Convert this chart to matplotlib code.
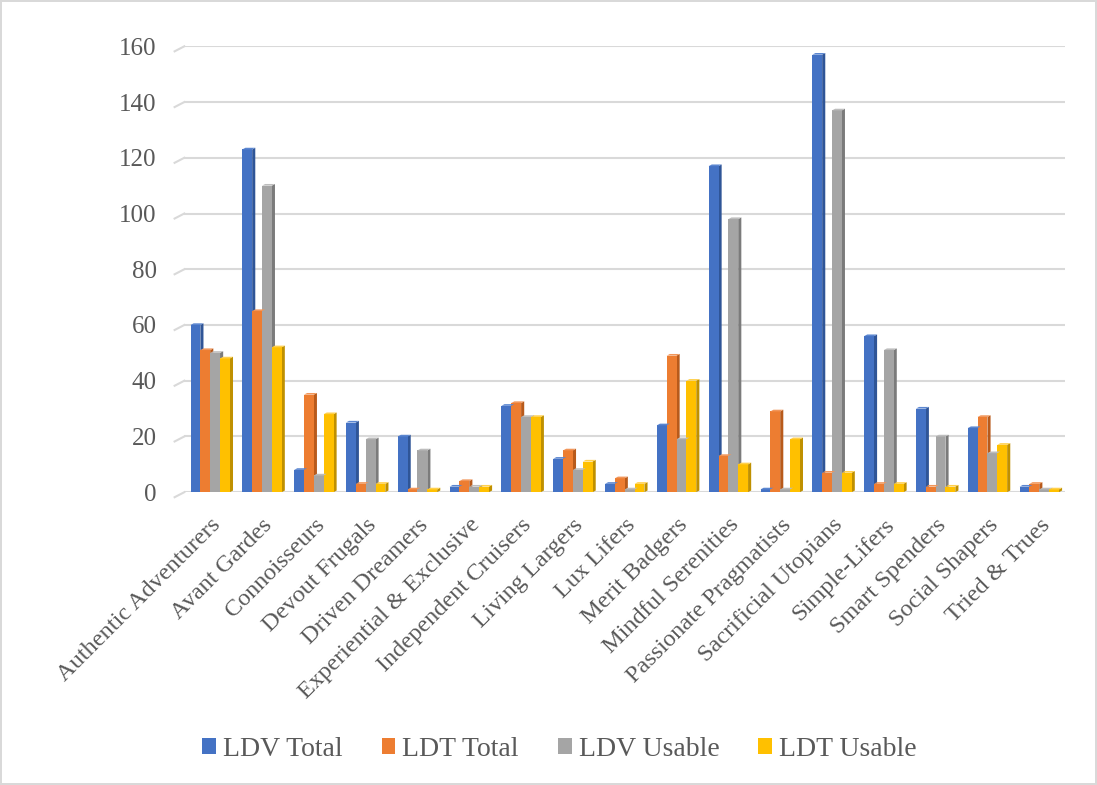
import numpy as np
import matplotlib.pyplot as plt
from matplotlib.patches import Polygon

categories = ["Authentic Adventurers", "Avant Gardes", "Connoisseurs", "Devout Frugals",
              "Driven Dreamers", "Experiential & Exclusive", "Independent Cruisers",
              "Living Largers", "Lux Lifers", "Merit Badgers", "Mindful Serenities",
              "Passionate Pragmatists", "Sacrificial Utopians", "Simple-Lifers",
              "Smart Spenders", "Social Shapers", "Tried & Trues"]
ldv_total = [60, 123, 8, 25, 20, 2, 31, 12, 3, 24, 117, 1, 157, 56, 30, 23, 2]
ldt_total = [51, 65, 35, 3, 1, 4, 32, 15, 5, 49, 13, 29, 7, 3, 2, 27, 3]
ldv_usable = [50, 110, 6, 19, 15, 2, 27, 8, 1, 19, 98, 1, 137, 51, 20, 14, 1]
ldt_usable = [48, 52, 28, 3, 1, 2, 27, 11, 3, 40, 10, 19, 7, 3, 2, 17, 1]
series = ["LDV Total", "LDT Total", "LDV Usable", "LDT Usable"]
yticks = [0, 20, 40, 60, 80, 100, 120, 140, 160]

colors = ["#4472C4", "#ED7D31", "#A5A5A5", "#FFC000"]
sides = ["#2F5597", "#B85A1B", "#7B7B7B", "#BF9000"]
tops = ["#5B86D0", "#F1965A", "#BDBDBD", "#FFD04D"]

plt.rcParams['font.family'] = ['Liberation Serif', 'DejaVu Serif']

fig = plt.figure(figsize=(10.97, 7.85), dpi=100)
fig.patch.set_edgecolor("#D9D9D9")
fig.patch.set_linewidth(1.5)
ax = fig.add_axes([0.168, 0.373, 0.803, 0.568])

x = np.arange(len(categories))
w = 0.19
dx, dy = 0.06, 0.6
data = [ldv_total, ldt_total, ldv_usable, ldt_usable]
for i, vals in enumerate(data):
    xs = x + (i - 1.5) * w
    ax.bar(xs, vals, width=w, color=colors[i], label=series[i], zorder=3, linewidth=0)
    for xc, h in zip(xs, vals):
        x0, x1 = xc - w / 2, xc + w / 2
        ax.add_patch(Polygon([(x1, 0), (x1 + dx, dy), (x1 + dx, h + dy), (x1, h)],
                             closed=True, color=sides[i], lw=0, zorder=2.9))
        ax.add_patch(Polygon([(x0, h), (x0 + dx, h + dy), (x1 + dx, h + dy), (x1, h)],
                             closed=True, color=tops[i], lw=0, zorder=3.1))

ax.set_xlim(-0.5, len(categories) - 0.5)
ax.set_ylim(0, 160)
ax.set_yticks(yticks)
ax.yaxis.grid(True, color="#D9D9D9", linewidth=1.5, zorder=0)
ax.set_axisbelow(True)

# little slanted floor/wall edge at the left of each gridline (3D look)
ytr = ax.get_yaxis_transform()
for v in yticks:
    ax.plot([-0.011, 0], [v - 1.8, v], color="#D9D9D9", lw=1.5, transform=ytr,
            clip_on=False, zorder=0)

for s in ax.spines.values():
    s.set_visible(False)
ax.tick_params(axis='both', length=0, labelcolor="#595959")
ax.tick_params(axis='y', pad=20, labelsize=18)
ax.tick_params(axis='x', pad=16, labelsize=17.5)
ax.set_xticks(x)
ax.set_xticklabels(categories, rotation=45, ha='right', rotation_mode='anchor')

fig.legend(*ax.get_legend_handles_labels(), loc='center', bbox_to_anchor=(0.51, 0.045),
           ncol=4, frameon=False, fontsize=20, handlelength=0.5, handleheight=0.5,
           handletextpad=0.25, columnspacing=1.4, labelcolor="#595959")

fig.savefig("out.png", dpi=100)
